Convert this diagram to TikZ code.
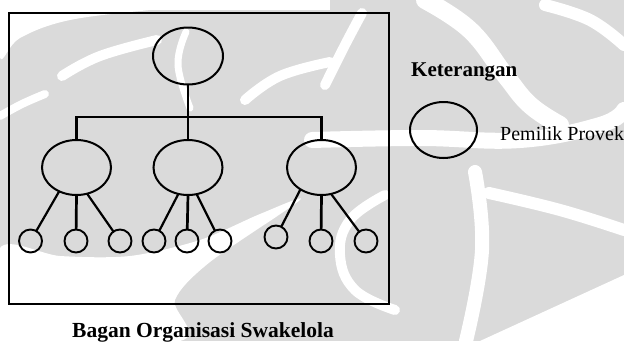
\documentclass[tikz,border=0pt]{standalone}
\usepackage{fontspec}
\setmainfont{Liberation Serif}
\usetikzlibrary{shapes.geometric}
\definecolor{wmgrey}{RGB}{218,218,218}
\begin{document}
\begin{tikzpicture}[x=1pt,y=-1pt,
  big/.style={draw, ellipse, line width=2pt, minimum width=69pt, minimum height=55pt, inner sep=0pt, outer sep=0pt},
  leaf/.style={draw, circle, line width=1.9pt, minimum size=23pt, inner sep=0pt, outer sep=0pt},
  link/.style={line width=2.2pt},
  trunk/.style={line width=2.7pt},
  wmcut/.style={draw=white, line cap=round},
  label/.style={inner sep=0pt, anchor=base west}]
\useasboundingbox (0,0) rectangle (624,341);

% watermark background
\fill[wmgrey] (0,0) rectangle (624,341);
\fill[white] plot[smooth cycle, tension=0.6] coordinates {(0,0) (260,0) (160,9) (70,20) (20,38) (0,58)};
\fill[white] (0,0) rectangle (330,10);
\draw[wmcut, line width=10pt] plot[smooth, tension=0.7] coordinates {(62,76) (100,56) (157,40)};
\draw[wmcut, line width=8pt] plot[smooth, tension=0.7] coordinates {(0,116) (22,104) (45,94)};
\draw[wmcut, line width=7pt] plot[smooth, tension=0.7] coordinates {(186,32) (178,65) (190,108)};
\draw[wmcut, line width=10pt] plot[smooth, tension=0.7] coordinates {(245,100) (280,76) (330,62)};
\fill[white] plot[smooth cycle, tension=0.5] coordinates {(0,248) (60,256) (130,256) (200,240) (260,214) (300,200) (210,262) (175,300) (180,341) (0,341)};
\draw[wmcut, line width=10pt] plot[smooth, tension=0.7] coordinates {(362,13) (345,45) (325,85)};
\draw[wmcut, line width=18pt] plot[smooth, tension=0.7] coordinates {(425,0) (470,30) (505,75) (530,105) (560,125)};
\draw[wmcut, line width=16pt] plot[smooth, tension=0.7] coordinates {(312,140) (420,138) (520,140) (600,125) (624,110)};
\draw[wmcut, line width=12pt] plot[smooth, tension=0.7] coordinates {(545,5) (590,20) (624,45)};
\draw[wmcut, line width=10pt] plot[smooth, tension=0.7] coordinates {(385,195) (350,220) (340,255) (355,290) (395,310)};
\draw[wmcut, line width=14pt] plot[smooth, tension=0.7] coordinates {(475,172) (482,250) (466,341)};
\draw[wmcut, line width=12pt] plot[smooth, tension=0.7] coordinates {(489,193) (560,210) (624,230)};
\fill[white] (480,341) -- (624,341) -- (624,275) -- cycle;

% outer frame
\draw[line width=1.4pt] (9,13) rectangle (389,304);

% organisation chart
\node[big, minimum width=70pt, minimum height=57pt] (root) at (188,56) {};
\node[big] (m1) at (76.5,167.5) {};
\node[big] (m2) at (188,167.5) {};
\node[big] (m3) at (321.5,167.5) {};
\node[leaf] (c1) at (30.5,241) {};
\node[leaf] (c2) at (76,241) {};
\node[leaf] (c3) at (120,241) {};
\node[leaf] (c4) at (154,241) {};
\node[leaf] (c5) at (187,241) {};
\node[leaf] (c6) at (220,241) {};
\node[leaf] (c7) at (276,237) {};
\node[leaf] (c8) at (321,241) {};
\node[leaf] (c9) at (366,241) {};

\coordinate (bar) at (188,117);
\draw[trunk] (root) -- (m2);
\draw[trunk] (m1.north) |- (bar) -| (m3.north);

\draw[link] (m1.234) -- (c1);
\draw[trunk] (m1.south) -- (c2);
\draw[link] (m1.292) -- (c3);
\draw[link] (m2.250) -- (c4);
\draw[trunk] (m2.south) -- (c5);
\draw[link] (m2.288) -- (c6);
\draw[link] (m3.226) -- (c7);
\draw[trunk] (m3.south) -- (c8);
\draw[link] (m3.290) -- (c9);

% legend
\node[label, font=\bfseries\fontsize{21}{21}\selectfont] (legtitle) at (411,76) {Keterangan};
\node[big, minimum width=67pt, minimum height=56pt] (legsym) at (443.5,130) {};
\node[label, font=\fontsize{20}{20}\selectfont] (legtext) at (500,140) {Pemilik Provek};

% caption
\node[label, font=\bfseries\fontsize{21.5}{21.5}\selectfont] (caption) at (72,337) {Bagan Organisasi Swakelola};
\end{tikzpicture}
\end{document}
